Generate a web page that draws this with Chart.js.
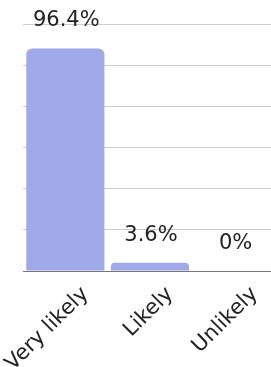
<!DOCTYPE html>
<html>
<head>
<meta charset="utf-8">
<script src="https://cdn.jsdelivr.net/npm/chart.js"></script>
<style>
html, body { margin: 0; padding: 0; overflow: hidden; background: #fff; }
#wrap { width: 280px; height: 367px; }
</style>
</head>
<body>
<div id="wrap"><canvas id="chart"></canvas></div>
<script>
const categories = ['Very likely', 'Likely', 'Unlikely'];
const shares = [96.4, 3.6, 0];
const shareLabels = ['96.4%', '3.6%', '0%'];
const yMax = 107;

// value labels above each bar
const barLabels = {
    id: 'barLabels',
    afterDatasetsDraw(chart) {
        const ctx = chart.ctx;
        const meta = chart.getDatasetMeta(0);
        ctx.save();
        ctx.font = '21px "DejaVu Sans"';
        ctx.fillStyle = '#222';
        ctx.textAlign = 'center';
        ctx.textBaseline = 'alphabetic';
        meta.data.forEach((bar, i) => {
            ctx.fillText(shareLabels[i], bar.x + 1, bar.y - 22);
        });
        ctx.restore();
    }
};

new Chart(document.getElementById('chart'), {
    type: 'bar',
    data: {
        labels: categories,
        datasets: [{
            data: shares,
            backgroundColor: '#9fa8e8',
            borderRadius: 6,
            borderSkipped: 'start',
            barPercentage: 0.923,
            categoryPercentage: 1
        }]
    },
    options: {
        responsive: true,
        maintainAspectRatio: false,
        animation: false,
        layout: { padding: { left: 23, right: 3, top: 24, bottom: 0 } },
        plugins: { legend: { display: false }, tooltip: { enabled: false } },
        scales: {
            x: {
                grid: { display: false },
                border: { display: true, color: '#777' },
                ticks: {
                    minRotation: 45,
                    maxRotation: 45,
                    labelOffset: 20,
                    color: '#222',
                    font: { family: 'DejaVu Sans', size: 21 }
                },
                afterFit: s => { s.height = 96; s.paddingLeft = 0; s.paddingRight = 0; }
            },
            y: {
                min: 0,
                max: yMax,
                ticks: { display: false, count: 7 },
                border: { display: false },
                grid: { color: '#ccc', drawTicks: false },
                afterFit: s => { s.width = 0; }
            }
        }
    },
    plugins: [barLabels]
});
</script>
</body>
</html>
